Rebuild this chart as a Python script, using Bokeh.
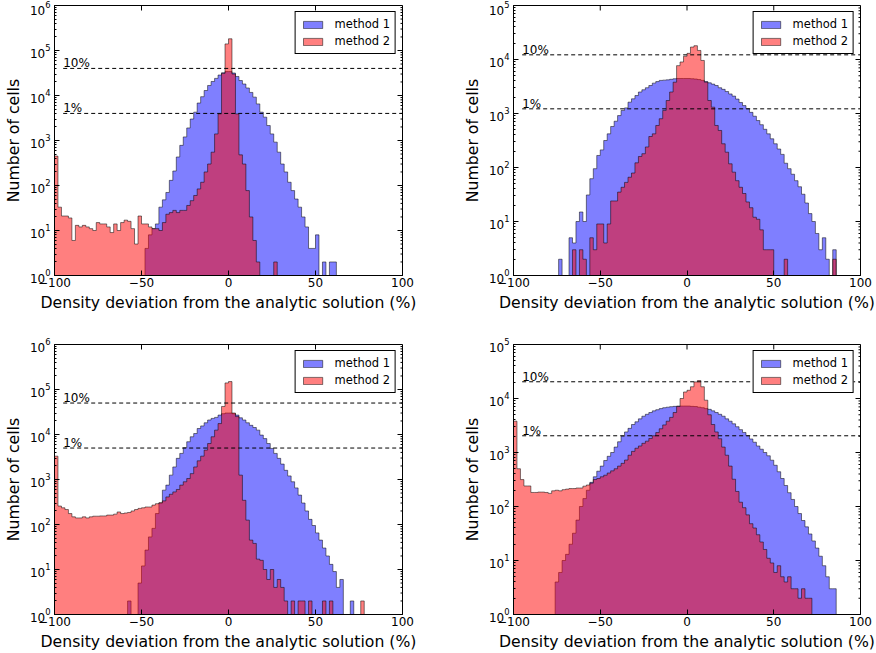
import numpy as np
from bokeh.plotting import figure
from bokeh.layouts import column, row
from bokeh.models import (ColumnDataSource, Range1d, FixedTicker, Legend, LegendItem)
from bokeh.embed import file_html
from bokeh.resources import INLINE
from bokeh.core.properties import value

FONT = "DejaVu Sans"
BIN_EDGES = np.arange(-100, 101, 2)          # 100 bins, 2 % wide
X_TICKS = [-100, -50, 0, 50, 100]
X_TICK_TEXT = {-100: "\u2212100", -50: "\u221250"}
X_LABEL = "Density deviation from the analytic solution (%)"
Y_LABEL = "Number of cells"
SERIES_NAMES = ["method 1", "method 2"]
LEVEL_LABELS = ["10%", "1%"]

# ---------------- panel 1 (top left) ----------------
P1_M1 = [0]*26 + [4, 8, 11, 14, 33, 48, 70, 130, 210, 430, 780, 1200, 1900, 3000, 4260, 6800,
                  9400, 12900, 16700, 20500, 24000, 28500, 32000, 34000,
                  34000, 31600, 26500, 21500, 18000, 14700, 11700, 9200, 6500, 4260, 3300, 2150,
                  1400, 920, 550, 300, 200, 118, 77, 50, 33, 20, 12, 4, 4, 8, 0, 2, 0, 2, 2] + [0]*19
P1_M2 = [450, 33, 21, 21, 19, 6, 13, 12, 13, 12, 11, 10, 15, 14, 14, 12, 9, 14, 10, 15, 17, 16, 11, 5, 21, 14,
         14, 12, 11, 11, 10, 15, 23, 25, 28, 25, 28, 28, 36, 46, 60, 84, 118, 200, 300, 550, 1400, 3900,
         31000, 140000,
         182000, 30000, 3900, 480, 300, 77, 20, 6, 2, 0, 0, 0, 0, 2] + [0]*36
P1_LEVELS = [40000, 4000]
P1_YMAX = 1e6

# ---------------- panel 2 (top right) ----------------
P2_M1 = [0]*13 + [2, 0, 0, 5, 4, 10, 15, 10, 31, 62, 95, 167, 212, 316, 420, 575, 720, 915, 1140, 1270,
                  1620, 1870, 2150, 2500, 2750, 3000, 3300, 3650, 3900, 4100, 4150, 4200, 4300, 4400,
                  4450, 4450, 4450] + \
        [4450, 4400, 4350, 4250, 4100, 3900, 3700, 3500, 3300, 3000, 2800, 2550, 2300, 2100, 1850,
         1600, 1400, 1230, 1050, 890, 740, 620, 510, 420, 340, 275, 220, 175, 120, 95, 75, 57, 44,
         32, 22, 14, 10, 6, 3, 5, 2, 0, 3] + [0]*7
P2_M2 = [0]*17 + [3, 0, 3, 2, 0, 5, 3, 9, 9, 4, 9, 24, 24, 35, 43, 53, 66, 79, 122, 160, 180, 240, 375,
                  420, 600, 800, 1140, 1740, 2500, 3800, 7700, 9000, 11500] + \
        [13000, 17000, 18000, 14700, 9600, 3800, 1740, 1310, 600, 485, 275, 192, 117, 82, 57, 43, 33,
         23, 18, 12, 11, 7, 3, 3, 3, 0, 0, 0, 2] + [0]*13 + [2] + [0]*7
P2_LEVELS = [12200, 1220]
P2_YMAX = 1e5

# ---------------- panel 3 (bottom left) ----------------
P3_M1 = [0]*21 + [2, 0, 0, 5, 12, 27, 53, 82, 175, 300, 580, 750, 1250, 1900, 2950, 3800, 5100, 6900,
                  8900, 10500, 13600, 15500, 18200, 21000, 22800, 24000, 27000, 29000, 30000] + \
        [30000, 29000, 27000, 23500, 21000, 18200, 16000, 14300, 12500, 9700, 8100, 6300, 4900, 3800,
         2950, 2200, 1600, 1200, 890, 650, 450, 300, 200, 130, 95, 65, 45, 30, 20, 13, 9, 4, 6, 0, 0, 2] + [0]*14
P3_M2 = [3300, 257, 235, 215, 175, 148, 140, 140, 148, 140, 148, 153, 153, 155, 155, 162, 162, 170, 190,
         175, 180, 185, 200, 215, 228, 235, 245, 245, 270, 290,
         305, 335, 410, 470, 530, 600, 750, 890, 1050, 1350, 1900, 2600, 3300, 4500, 6300, 8900, 12500,
         17500, 42000, 140000,
         150000, 30000, 25000, 1250, 345, 125, 45, 38, 17, 16, 10, 6, 10, 4, 6, 4, 2, 0, 2, 0, 2, 2, 0, 2,
         0, 0, 0, 2, 0, 2] + [0]*8 + [2] + [0]*11
P3_LEVELS = [50000, 5000]
P3_YMAX = 1e6

# ---------------- panel 4 (bottom right) ----------------
P4_M1 = [0]*12 + [4, 6, 10, 13, 20, 32, 56, 100, 140, 200, 280, 355, 450, 560, 710, 850, 1000, 1260, 1580,
                  2000, 2400, 2800, 3300, 3700, 4200, 4700, 5100, 5500, 5900, 6200, 6500, 6750, 6900,
                  7050, 7150, 7250, 7250, 7250] + \
        [7250, 7150, 7100, 6900, 6750, 6500, 6300, 5900, 5500, 5100, 4700, 4200, 3800, 3400, 3000, 2650,
         2350, 2050, 1780, 1550, 1320, 1150, 1000, 870, 720, 580, 440, 330, 245, 180, 135, 100, 74, 55,
         42, 31, 23, 17, 12, 8, 5, 3, 3] + [0]*7
P4_M2 = [3800, 500, 315, 240, 240, 182, 182, 185, 185, 182, 175, 195, 200, 195, 205, 210, 215, 215, 220,
         220, 238, 250, 270, 316, 330, 355, 380, 417, 457, 500,
         560, 630, 725, 890, 1050, 1200, 1320, 1480, 1620, 1820, 2040, 2340, 2750, 3240, 3800, 4470, 5500,
         7100, 10000, 13200,
         14200, 16500, 20300, 21500, 16500, 9300, 5000, 3300, 2400, 1800, 1260, 890, 560, 320, 190, 120,
         95, 70, 48, 40, 30, 22, 16, 11, 9, 6, 8, 5, 4, 5, 3, 3, 2, 3, 2, 2] + [0]*14
P4_LEVELS = [20400, 2040]
P4_YMAX = 1e5

for _name, _arr in [("P1_M1", P1_M1), ("P1_M2", P1_M2), ("P2_M1", P2_M1), ("P2_M2", P2_M2),
                    ("P3_M1", P3_M1), ("P3_M2", P3_M2), ("P4_M1", P4_M1), ("P4_M2", P4_M2)]:
    if len(_arr) != len(BIN_EDGES) - 1:
        raise ValueError(f"{_name} has {len(_arr)} values")

# ---------------- styling ----------------
COLORS = ["#0000ff", "#ff0000"]
LEVEL_X0 = -95
MAJOR_LEN = 5
MINOR_LEN = 2


def step_outline(counts):
    c = np.maximum(np.asarray(counts, dtype=float), 1.0)
    xs = np.repeat(BIN_EDGES, 2)[1:-1]
    ys = np.repeat(c, 2)
    xs = np.concatenate([[BIN_EDGES[0]], xs, [BIN_EDGES[-1]]])
    ys = np.concatenate([[1.0], ys, [1.0]])
    return xs, ys


def style_axis(ax):
    ax.axis_line_color = "black"
    ax.axis_line_width = 1
    ax.major_tick_line_color = "black"
    ax.minor_tick_line_color = "black"
    ax.major_tick_in = MAJOR_LEN
    ax.major_tick_out = 0
    ax.minor_tick_in = MINOR_LEN
    ax.minor_tick_out = 0
    ax.major_label_text_font = FONT
    ax.major_label_text_color = "black"
    ax.major_label_text_font_size = "12px"
    ax.axis_label_text_font = FONT
    ax.axis_label_text_font_size = "15.7px"
    ax.axis_label_text_font_style = "normal"
    ax.axis_label_text_color = "black"


def panel(m1, m2, levels, ymax, width, height, bl, br, bt, bb):
    x_lo, x_hi = X_TICKS[0], X_TICKS[-1]
    p = figure(width=width, height=height, x_range=Range1d(x_lo, x_hi), y_range=Range1d(1, ymax),
               y_axis_type="log", output_backend="svg", toolbar_location=None,
               min_border_left=bl, min_border_right=br, min_border_top=bt, min_border_bottom=bb)
    p.background_fill_color = "white"
    p.border_fill_color = "white"
    p.outline_line_color = "black"
    p.outline_line_width = 1
    p.xgrid.visible = False
    p.ygrid.visible = False

    nexp = int(round(np.log10(ymax)))
    decades = [10.0 ** k for k in range(0, nexp + 1)]
    minors = [m * 10.0 ** k for k in range(0, nexp) for m in range(2, 10)]

    xa = p.xaxis[0]
    xa.ticker = FixedTicker(ticks=X_TICKS)
    xa.major_label_overrides = X_TICK_TEXT
    xa.axis_label = X_LABEL
    style_axis(xa)
    xa.minor_tick_line_color = None
    xa.major_label_standoff = 2
    xa.axis_label_standoff = 3

    ya = p.yaxis[0]
    ya.ticker = FixedTicker(ticks=decades, minor_ticks=minors)
    ya.axis_label = Y_LABEL
    style_axis(ya)
    ya.major_label_standoff = 4
    ya.axis_label_standoff = 4

    renderers = []
    for counts, col in zip([m1, m2], COLORS):
        xs, ys = step_outline(counts)
        r = p.patch(x=xs, y=ys, fill_color=col, fill_alpha=0.5,
                    line_color="black", line_alpha=0.5, line_width=1)
        renderers.append(r)

    # inward ticks on the top and right edges (mirror of bottom / left)
    p.ray(x=X_TICKS, y=[ymax] * len(X_TICKS), length=MAJOR_LEN, length_units="screen",
          angle=-np.pi / 2, line_color="black", line_width=1)
    p.ray(x=[x_hi] * len(decades), y=decades, length=MAJOR_LEN, length_units="screen",
          angle=np.pi, line_color="black", line_width=1)
    p.ray(x=[x_hi] * len(minors), y=minors, length=MINOR_LEN, length_units="screen",
          angle=np.pi, line_color="black", line_width=1)

    lsrc = ColumnDataSource(dict(x0=[LEVEL_X0] * len(levels), x1=[x_hi] * len(levels),
                                 y=levels, t=LEVEL_LABELS))
    p.segment(x0="x0", y0="y", x1="x1", y1="y", source=lsrc, line_color="black",
              line_width=1, line_dash="4 3")
    p.text(x="x0", y="y", text="t", source=lsrc, text_font=value(FONT),
           text_font_size="12px", text_color="black", text_baseline="alphabetic",
           text_align="left", y_offset=-5)

    legend = Legend(items=[LegendItem(label=n, renderers=[r]) for n, r in zip(SERIES_NAMES, renderers)],
                    location="top_right")
    legend.label_text_font = FONT
    legend.label_text_font_size = "11.5px"
    legend.label_text_color = "black"
    legend.glyph_width = 24
    legend.glyph_height = 9
    legend.label_height = 14
    legend.label_standoff = 10
    legend.spacing = 3
    legend.padding = 5
    legend.margin = 6
    legend.border_line_color = "black"
    legend.border_line_width = 1
    legend.border_line_alpha = 1
    legend.background_fill_alpha = 1
    p.add_layout(legend)
    return p


# page origin is at (0, 0): frames at x 54-402 / 513-860, y 5-275 / 344-614
p1 = panel(P1_M1, P1_M2, P1_LEVELS, P1_YMAX, 438, 318, 54, 36, 5, 43)
p2 = panel(P2_M1, P2_M2, P2_LEVELS, P2_YMAX, 438, 318, 75, 16, 5, 43)
p3 = panel(P3_M1, P3_M2, P3_LEVELS, P3_YMAX, 438, 335, 54, 36, 26, 39)
p4 = panel(P4_M1, P4_M2, P4_LEVELS, P4_YMAX, 438, 335, 75, 16, 26, 39)

layout = column(row(p1, p2, spacing=0), row(p3, p4, spacing=0), spacing=0)

with open("out.html", "w") as f:
    f.write(file_html(layout, INLINE))
